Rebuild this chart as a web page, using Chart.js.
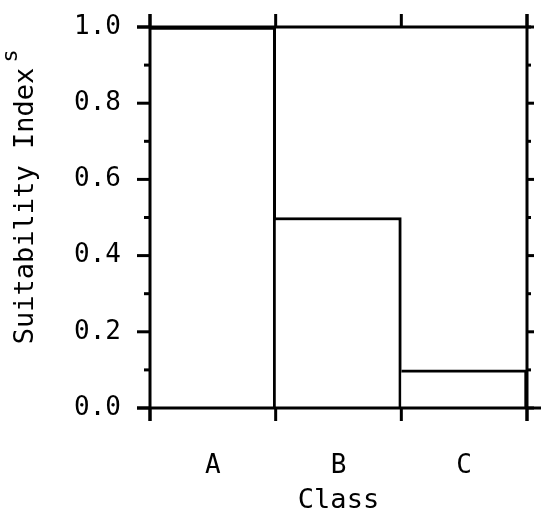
<!DOCTYPE html>
<html>
<head>
<meta charset="utf-8">
<script src="https://cdn.jsdelivr.net/npm/chart.js@4/dist/chart.umd.min.js"></script>
<style>
  html, body { margin: 0; padding: 0; background: #fff; }
  #wrap { width: 542px; height: 519px; }
</style>
</head>
<body>
<div id="wrap"><canvas id="c" width="542" height="519"></canvas></div>
<script>
const categories = ['A', 'B', 'C'];
const suitability = [1.0, 0.5, 0.1];
const yMajorTicks = [0, 0.2, 0.4, 0.6, 0.8, 1.0];
const yMinorTicks = [0.1, 0.3, 0.5, 0.7, 0.9];
const yTitle = 'Suitability Index';
const yTitleSub = 's';
const xTitle = 'Class';

const FONT = '"DejaVu Sans Mono", "Liberation Mono", monospace';

const framePlugin = {
  id: 'frame',
  afterDatasetsDraw(chart) {
    const ctx = chart.ctx;
    const x = chart.scales.x, y = chart.scales.y;
    const a = chart.chartArea;
    ctx.save();
    ctx.strokeStyle = '#000';
    ctx.lineWidth = 3;
    ctx.lineCap = 'butt';
    const line = (x1, y1, x2, y2) => { ctx.beginPath(); ctx.moveTo(x1, y1); ctx.lineTo(x2, y2); ctx.stroke(); };
    // frame
    line(a.left, a.top - 13, a.left, a.bottom + 13);
    line(a.right, a.top - 13, a.right, a.bottom + 13);
    line(a.left - 13, a.bottom, a.right + 14, a.bottom);
    line(a.left - 13, a.top, a.right + 4, a.top);
    // x boundary ticks
    for (let i = 0; i <= categories.length; i++) {
      const px = x.getPixelForValue(i - 0.5);
      line(px, a.bottom, px, a.bottom + 13);
      line(px, a.top, px, a.top - 13);
    }
    // y ticks
    yMajorTicks.forEach(v => {
      const py = y.getPixelForValue(v);
      line(a.left - 13, py, a.left, py);
      line(a.right, py, a.right + 7, py);
    });
    yMinorTicks.forEach(v => {
      const py = y.getPixelForValue(v);
      line(a.left - 6, py, a.left, py);
      line(a.right, py, a.right + 4, py);
    });
    // y title
    ctx.fillStyle = '#000';
    ctx.translate(33, 206);
    ctx.rotate(-Math.PI / 2);
    ctx.font = '27px ' + FONT;
    ctx.textAlign = 'center';
    ctx.textBaseline = 'alphabetic';
    ctx.fillText(yTitle, 0, 0);
    ctx.font = '22px ' + FONT;
    ctx.fillText(yTitleSub, 150, -16);
    ctx.restore();
  }
};

new Chart(document.getElementById('c'), {
  type: 'bar',
  data: {
    labels: categories,
    datasets: [{
      data: suitability,
      backgroundColor: '#fff',
      borderColor: '#000',
      borderWidth: { top: 3, left: 0, right: 3, bottom: 0 },
      borderSkipped: false,
      categoryPercentage: 1.0,
      barPercentage: 1.0
    }]
  },
  options: {
    responsive: false,
    animation: false,
    devicePixelRatio: 1,
    layout: { padding: { top: 27, right: 15, left: 0, bottom: 0 } },
    plugins: { legend: { display: false }, tooltip: { enabled: false } },
    scales: {
      x: {
        grid: { display: false },
        border: { display: false },
        ticks: { color: '#000', font: { family: FONT, size: 26 }, padding: 35 },
        title: { display: true, text: xTitle, color: '#000', font: { family: FONT, size: 27 }, padding: { top: 0, bottom: 2 } },
        afterFit(s) { s.height = 111; s.paddingLeft = 0; s.paddingRight = 0; }
      },
      y: {
        min: 0, max: 1,
        grid: { display: false },
        border: { display: false },
        afterBuildTicks(s) { s.ticks = yMajorTicks.map(v => ({ value: v })); },
        ticks: {
          color: '#000',
          font: { family: FONT, size: 26 },
          padding: 21,
          callback: v => Number(v).toFixed(1)
        },
        afterFit(s) { s.width = 150; s.paddingTop = 0; s.paddingBottom = 0; }
      }
    }
  },
  plugins: [framePlugin]
});
</script>
</body>
</html>
